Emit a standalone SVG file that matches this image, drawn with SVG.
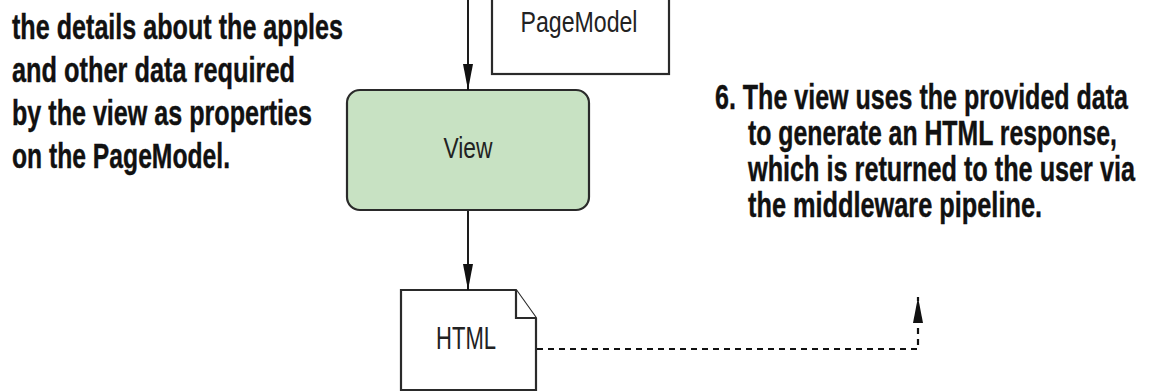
<svg xmlns="http://www.w3.org/2000/svg" width="1149" height="392" viewBox="0 0 1149 392">
<style>
.note{font-family:"Liberation Sans Narrow","Liberation Sans",Arial,sans-serif;font-weight:bold;font-size:35px;fill:#111;stroke:#111;stroke-width:0.4}
.lbl{font-family:"Liberation Sans Narrow","Liberation Sans",Arial,sans-serif;font-size:29px;fill:#222;text-anchor:middle}
.box{fill:#fff;stroke:#2a2a2a;stroke-width:2.2}
.view{fill:#c8e2c3;stroke:#2a2a2a;stroke-width:2.2}
.conn{fill:none;stroke:#111;stroke-width:1.9}
.dash{stroke-dasharray:6 5;stroke-width:2.2}
</style>
<defs>
<marker id="ah" markerWidth="26" markerHeight="10" refX="26" refY="5" orient="auto" markerUnits="userSpaceOnUse">
<path d="M0,0 L26,5 L0,10 z" fill="#111"/>
</marker>
</defs>
<rect width="1149" height="392" fill="#fff"/>
<g id="note-left">
<text class="note" x="12" y="39" textLength="331" lengthAdjust="spacingAndGlyphs">the details about the apples</text>
<text class="note" x="12" y="82" textLength="283" lengthAdjust="spacingAndGlyphs">and other data required</text>
<text class="note" x="12" y="125" textLength="300" lengthAdjust="spacingAndGlyphs">by the view as properties</text>
<text class="note" x="12" y="168" textLength="218" lengthAdjust="spacingAndGlyphs">on the PageModel.</text>
</g>
<g id="note-right">
<text class="note" transform="translate(715,109) scale(0.7,1)" x="0" y="0" textLength="590" lengthAdjust="spacingAndGlyphs">6. The view uses the provided data</text>
<text class="note" transform="translate(748,145) scale(0.7,1)" x="0" y="0" textLength="527.1" lengthAdjust="spacingAndGlyphs">to generate an HTML response,</text>
<text class="note" transform="translate(748,181) scale(0.7,1)" x="0" y="0" textLength="552.9" lengthAdjust="spacingAndGlyphs">which is returned to the user via</text>
<text class="note" transform="translate(748,217) scale(0.7,1)" x="0" y="0" textLength="420" lengthAdjust="spacingAndGlyphs">the middleware pipeline.</text>
</g>
<g id="pagemodel">
<rect class="box" x="492" y="-10" width="177" height="84"/>
<text class="lbl" x="579" y="32" textLength="117" lengthAdjust="spacingAndGlyphs">PageModel</text>
</g>
<g id="view">
<rect class="view" x="347" y="90" width="242" height="120" rx="13" ry="13"/>
<text class="lbl" x="468" y="158" textLength="49" lengthAdjust="spacingAndGlyphs">View</text>
</g>
<g id="html">
<path class="box" d="M401,290 H516 L536,318 V390 H401 Z"/>
<path class="box" d="M516,290 V318 H536"/>
<text class="lbl" x="466" y="349" textLength="60" lengthAdjust="spacingAndGlyphs" style="font-size:31px">HTML</text>
</g>
<g id="connectors">
<path class="conn" d="M468,0 V90" marker-end="url(#ah)"/>
<path class="conn" d="M468,211 V290" marker-end="url(#ah)"/>
<path class="conn dash" d="M537,349 H918 V297" marker-end="url(#ah)"/>
</g>
</svg>
